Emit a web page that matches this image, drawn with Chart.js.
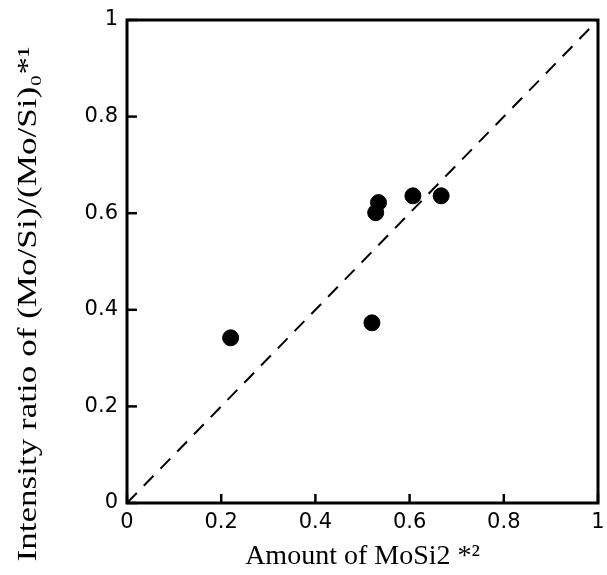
<!DOCTYPE html>
<html>
<head>
<meta charset="utf-8">
<script src="https://cdn.jsdelivr.net/npm/chart.js@4.4.1/dist/chart.umd.min.js"></script>
<style>
  html, body { margin: 0; padding: 0; background: #fff; }
  #wrap { width: 607px; height: 575px; }
</style>
</head>
<body>
<div id="wrap"><canvas id="c" width="607" height="575"></canvas></div>
<script>
// ---- data ----
const amountMoSi2 = [0.22, 0.52, 0.528, 0.534, 0.607, 0.667];
const intensityRatio = [0.342, 0.373, 0.601, 0.622, 0.636, 0.636];
const diagonalX = [0, 1];
const diagonalY = [0, 1];
const xTickLabels = ['0', '0.2', '0.4', '0.6', '0.8', '1'];
const yTickLabels = ['0', '0.2', '0.4', '0.6', '0.8', '1'];
const xTitle = 'Amount of MoSi2 *\u00B2';
const yTitle = 'Intensity ratio of (Mo/Si)/(Mo/Si)\u2080*\u00B9';

const points = amountMoSi2.map((x, i) => ({ x: x, y: intensityRatio[i] }));
const diag = diagonalX.map((x, i) => ({ x: x, y: diagonalY[i] }));

const frameAndTicks = {
  id: 'frameAndTicks',
  afterDatasetsDraw(chart) {
    const ctx = chart.ctx;
    const a = chart.chartArea;
    const xs = chart.scales.x, ys = chart.scales.y;
    ctx.save();
    ctx.strokeStyle = '#000';
    ctx.lineWidth = 3;
    ctx.lineCap = 'butt';
    ctx.beginPath();
    ctx.rect(a.left, a.top, a.right - a.left, a.bottom - a.top);
    ctx.stroke();
    ctx.lineWidth = 2.5;
    xs.ticks.forEach(t => {
      const px = xs.getPixelForValue(t.value);
      ctx.beginPath();
      ctx.moveTo(px, a.bottom);
      ctx.lineTo(px, a.bottom - 9);
      ctx.stroke();
    });
    ys.ticks.forEach(t => {
      const py = ys.getPixelForValue(t.value);
      ctx.beginPath();
      ctx.moveTo(a.left, py);
      ctx.lineTo(a.left + 10, py);
      ctx.stroke();
    });
    ctx.restore();
  }
};

// y-axis title: drawn as real text, stretched along its length like the scanned original
const yTitlePlugin = {
  id: 'yTitlePlugin',
  afterDraw(chart) {
    const ctx = chart.ctx;
    ctx.save();
    ctx.fillStyle = '#000';
    ctx.font = '27px "Liberation Serif"';
    ctx.textAlign = 'center';
    ctx.textBaseline = 'middle';
    ctx.translate(29, 304);
    ctx.rotate(-Math.PI / 2);
    ctx.scale(1.3, 1);
    ctx.fillText(yTitle, 0, 0);
    ctx.restore();
  }
};

new Chart(document.getElementById('c'), {
  type: 'scatter',
  data: {
    datasets: [
      {
        label: 'diagonal',
        type: 'line',
        data: diag,
        borderColor: '#000',
        borderWidth: 2,
        borderDash: [14, 10],
        pointRadius: 0,
        fill: false,
        order: 2
      },
      {
        label: 'samples',
        data: points,
        backgroundColor: '#000',
        borderColor: '#000',
        pointRadius: 8,
        pointHoverRadius: 8,
        order: 1
      }
    ]
  },
  options: {
    responsive: false,
    animation: false,
    events: [],
    layout: { padding: { top: 20, right: 6, left: 0, bottom: 0 } },
    plugins: { legend: { display: false }, tooltip: { enabled: false } },
    scales: {
      x: {
        type: 'linear',
        min: 0, max: 1,
        grid: { display: true, drawOnChartArea: false, drawTicks: false },
        border: { display: false },
        ticks: {
          stepSize: 0.2,
          padding: 7,
          color: '#000',
          font: { family: 'DejaVu Sans', size: 21 },
          maxRotation: 0,
          callback: (v, i) => xTickLabels[i]
        },
        title: {
          display: true,
          text: xTitle,
          color: '#000',
          font: { family: 'Liberation Serif', size: 28 },
          padding: { top: 0, bottom: 2 }
        },
        afterFit: s => { s.height = 72; s.paddingRight = 0; s.paddingLeft = 0; }
      },
      y: {
        type: 'linear',
        min: 0, max: 1,
        grid: { display: true, drawOnChartArea: false, drawTicks: false },
        border: { display: false },
        ticks: {
          stepSize: 0.2,
          padding: 9,
          color: '#000',
          font: { family: 'DejaVu Sans', size: 21 },
          callback: (v, i) => yTickLabels[i]
        },
        title: { display: false, text: yTitle },
        afterFit: s => { s.width = 127; s.paddingTop = 0; s.paddingBottom = 0; }
      }
    }
  },
  plugins: [frameAndTicks, yTitlePlugin]
});
</script>
</body>
</html>
